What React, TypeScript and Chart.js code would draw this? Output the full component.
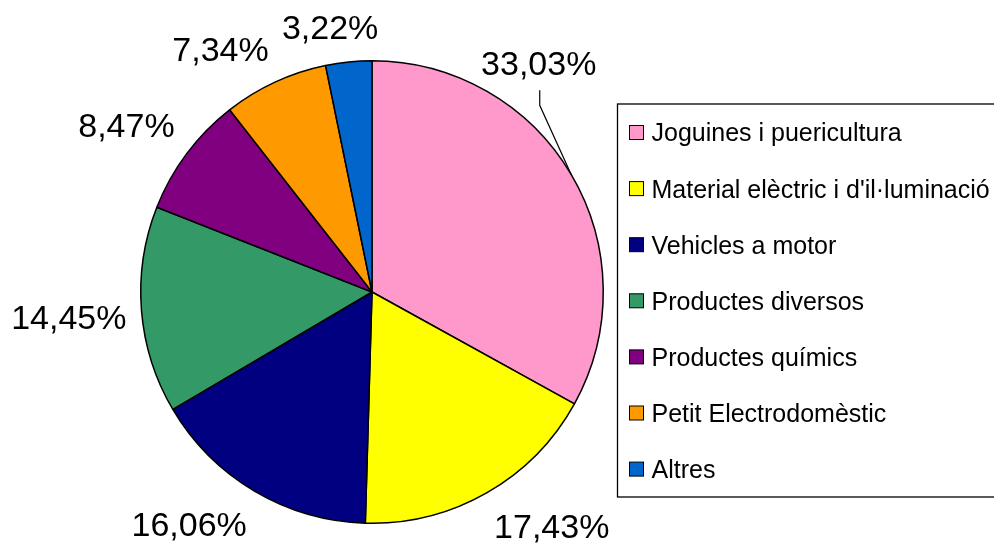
import React, { useEffect, useRef } from "react";
import { Chart, registerables } from "chart.js";

Chart.register(...registerables);

const categories = [
  "Joguines i puericultura",
  "Material elèctric i d'il·luminació",
  "Vehicles a motor",
  "Productes diversos",
  "Productes químics",
  "Petit Electrodomèstic",
  "Altres",
];
const shares = [33.03, 17.43, 16.06, 14.45, 8.47, 7.34, 3.22];
const sliceColors = ["#FF99CC", "#FFFF00", "#000080", "#339966", "#800080", "#FF9900", "#0066CC"];

const FONT = '"Liberation Sans", Arial, sans-serif';

const pieLabels = {
  id: "pieLabels",
  afterDatasetsDraw(chart: any, _args: any, opts: any) {
    const ctx = chart.ctx;
    const meta = chart.getDatasetMeta(0);
    const data = chart.data.datasets[0].data as number[];
    ctx.save();
    ctx.font = `${opts.size}px ${FONT}`;
    ctx.fillStyle = "#000";
    ctx.strokeStyle = "#000";
    ctx.lineWidth = 1.2;
    ctx.textAlign = "center";
    ctx.textBaseline = "alphabetic";
    const clamp = (v: number) => Math.max(-1, Math.min(1, v * opts.k));
    meta.data.forEach((arc: any, i: number) => {
      const { x, y, startAngle, endAngle, outerRadius } = arc.getProps(
        ["x", "y", "startAngle", "endAngle", "outerRadius"],
        true
      );
      const mid = (startAngle + endAngle) / 2;
      const ux = Math.cos(mid);
      const uy = Math.sin(mid);
      const text = data[i].toFixed(2).replace(".", ",") + "%";
      const w = ctx.measureText(text).width;
      const hw = w / 2;
      const hh = opts.boxH / 2;
      let cx = x + (outerRadius + opts.gap) * ux + hw * clamp(ux);
      let cy = y + (outerRadius + opts.gap) * uy + hh * clamp(uy);
      const mv = opts.moved[i];
      if (mv) {
        cx += mv[0];
        cy += mv[1];
        const ex = x + outerRadius * ux;
        const ey = y + outerRadius * uy;
        ctx.beginPath();
        ctx.moveTo(cx + 1, cy + 28);
        ctx.lineTo(cx + 1, cy + 43);
        ctx.lineTo(ex, ey);
        ctx.stroke();
      }
      ctx.fillText(text, cx, cy + opts.size * 0.358);
    });
    ctx.restore();
  },
};

const boxLegend = {
  id: "boxLegend",
  afterDraw(chart: any, _args: any, o: any) {
    const ctx = chart.ctx;
    const ds = chart.data.datasets[0];
    ctx.save();
    ctx.strokeStyle = "#000";
    ctx.lineWidth = 1.3;
    ctx.strokeRect(o.x, o.y, chart.width + 10 - o.x, o.h);
    ctx.font = `${o.size}px ${FONT}`;
    ctx.textAlign = "left";
    ctx.textBaseline = "alphabetic";
    (chart.data.labels as string[]).forEach((lab, i) => {
      const ry = o.firstRow + i * o.rowGap;
      ctx.fillStyle = ds.backgroundColor[i];
      ctx.fillRect(o.markerX, ry - o.marker / 2, o.marker, o.marker);
      ctx.lineWidth = 1;
      ctx.strokeRect(o.markerX, ry - o.marker / 2, o.marker, o.marker);
      ctx.fillStyle = "#000";
      ctx.fillText(lab, o.textX, ry + o.size * 0.358);
    });
    ctx.restore();
  },
};

export default function App() {
  const ref = useRef<HTMLCanvasElement | null>(null);
  useEffect(() => {
    if (!ref.current) return;
    const chart = new Chart(ref.current, {
      type: "pie",
      data: {
        labels: categories,
        datasets: [
          {
            data: shares,
            backgroundColor: sliceColors,
            borderColor: "#000",
            borderWidth: 1.5,
            hoverOffset: 0,
            offset: 0,
          },
        ],
      },
      options: {
        animation: false,
        responsive: true,
        maintainAspectRatio: false,
        layout: { padding: { left: 140, top: 60, right: 390, bottom: 22 } },
        plugins: {
          legend: { display: false },
          tooltip: { enabled: false },
          pieLabels: { size: 34, gap: 15, boxH: 40, k: 3.5, moved: { 0: [-103, -84.5] } },
          boxLegend: {
            x: 617.5,
            y: 104,
            h: 393,
            size: 25,
            marker: 14,
            markerX: 629.5,
            textX: 651.5,
            firstRow: 132.5,
            rowGap: 56.1,
          },
        } as any,
      },
      plugins: [pieLabels, boxLegend],
    });
    return () => chart.destroy();
  }, []);
  return (
    <div style={{ position: "fixed", left: 0, top: 0, width: 994, height: 546, background: "#fff" }}>
      <canvas ref={ref} />
    </div>
  );
}
